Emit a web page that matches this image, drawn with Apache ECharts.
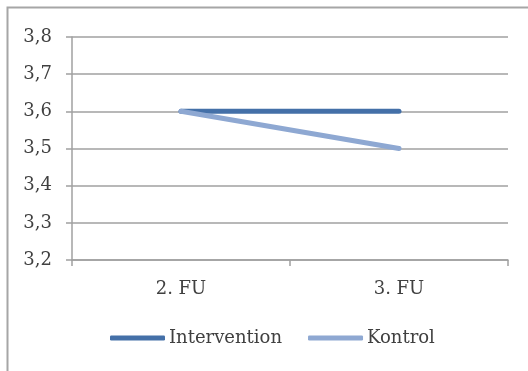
<!DOCTYPE html>
<html>
<head>
<meta charset="utf-8">
<script src="https://cdn.jsdelivr.net/npm/echarts@6/dist/echarts.min.js"></script>
<style>html,body{margin:0;padding:0;background:#fff}#c{width:528px;height:371px}</style>
</head>
<body>
<div id="c"></div>
<script>
const categories = ['2. FU', '3. FU'];
const intervention = [3.6, 3.6];
const kontrol = [3.6, 3.5];
const yMin = 3.2, yMax = 3.8, yStep = 0.1;

const chart = echarts.init(document.getElementById('c'), null, {renderer: 'canvas'});
const font = 'DejaVu Serif';
chart.setOption({
  animation: false,
  backgroundColor: '#fff',
  graphic: [{
    type: 'rect', silent: true,
    shape: {x: 7.5, y: 7.5, width: 600, height: 500},
    style: {fill: 'none', stroke: '#a6a6a6', lineWidth: 2}
  }],
  grid: {left: 72, right: 20, top: 37, bottom: 111, containLabel: false},
  legend: {
    bottom: 19, left: 105, itemGap: 26, itemWidth: 55, itemHeight: 5,
    icon: 'roundRect',
    textStyle: {fontFamily: font, fontSize: 18, color: '#404040', padding: [0, 0, 0, -1]},
    data: ['Intervention', 'Kontrol']
  },
  xAxis: {
    type: 'category', data: categories, boundaryGap: true,
    axisLine: {lineStyle: {color: '#a0a0a0', width: 1.5}},
    axisTick: {show: true, length: 6, lineStyle: {color: '#a0a0a0', width: 1.5}},
    axisLabel: {fontFamily: font, fontSize: 18, color: '#404040', margin: 20}
  },
  yAxis: {
    type: 'value', min: yMin, max: yMax, interval: yStep,
    axisLine: {show: true, lineStyle: {color: '#a0a0a0', width: 1.5}},
    axisTick: {show: true, length: 6, lineStyle: {color: '#a0a0a0', width: 1.5}},
    splitLine: {lineStyle: {color: '#a0a0a0', width: 1.5}},
    axisLabel: {fontFamily: font, fontSize: 18, color: '#404040', margin: 20,
      formatter: v => v.toFixed(1).replace('.', ',')}
  },
  series: [
    {name: 'Intervention', type: 'line', data: intervention, symbol: 'none',
     color: '#4470a8', lineStyle: {width: 5, cap: 'round', color: '#4470a8'}},
    {name: 'Kontrol', type: 'line', data: kontrol, symbol: 'none',
     color: '#8ea8d2', lineStyle: {width: 5, cap: 'round', color: '#8ea8d2'}}
  ]
});
</script>
</body>
</html>
